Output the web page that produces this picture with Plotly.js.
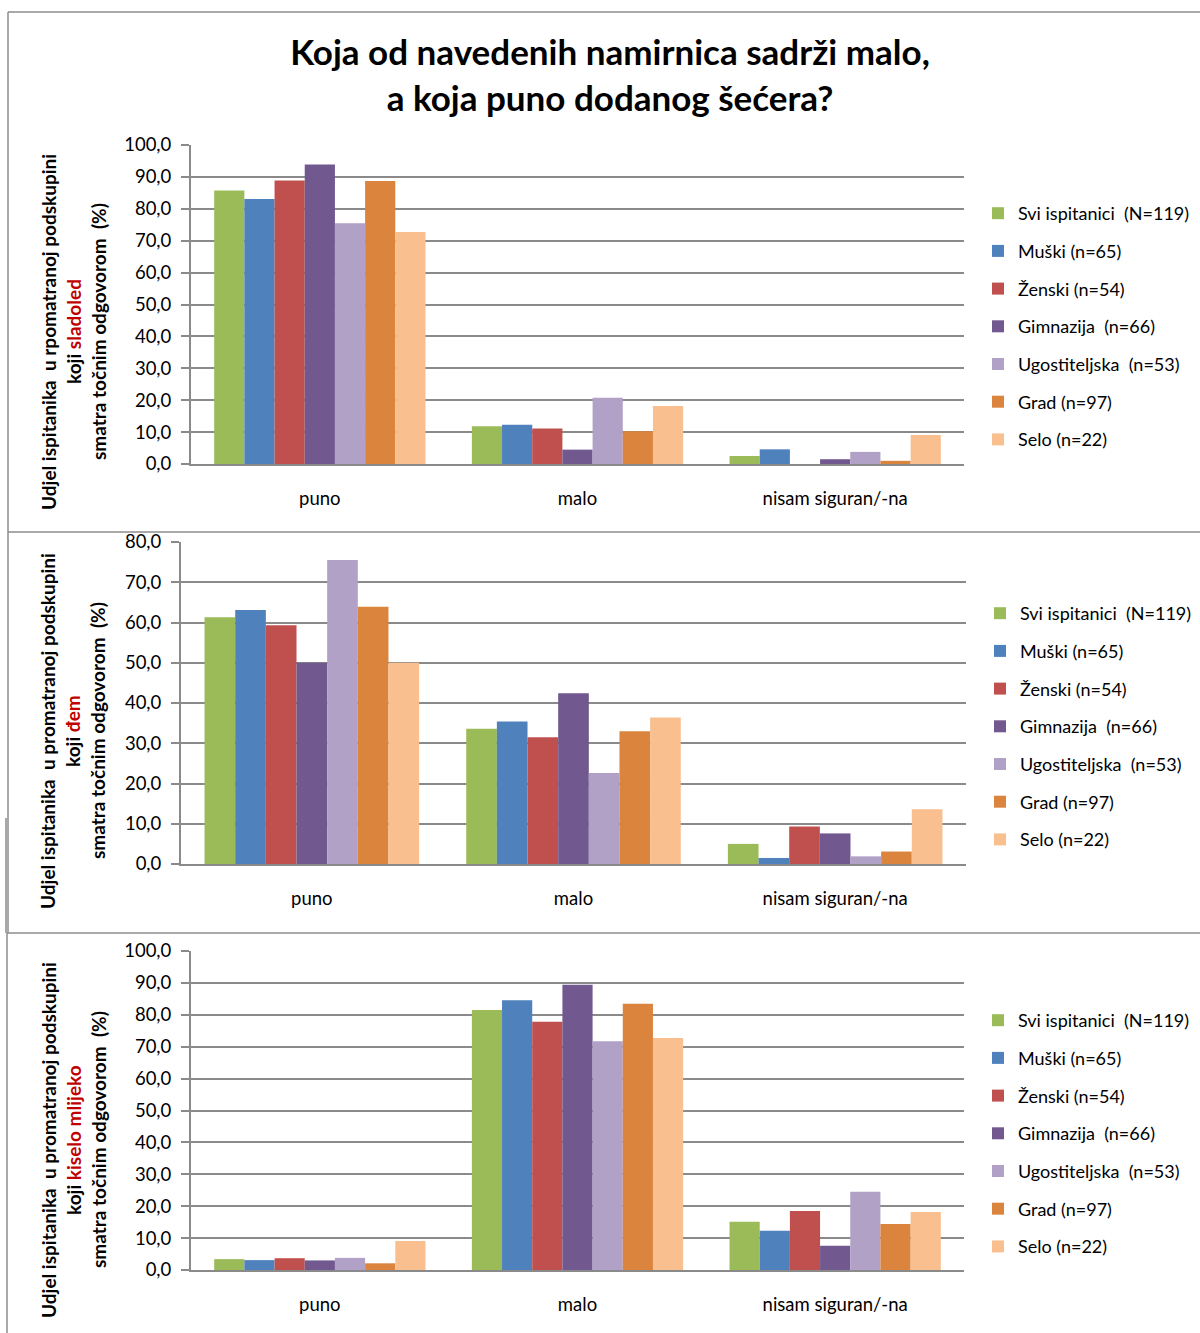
<!DOCTYPE html>
<html>
<head>
<meta charset="utf-8">
<script src="https://cdn.plot.ly/plotly-3.0.1.min.js"></script>
<style>
  html, body { margin: 0; padding: 0; background: #ffffff; }
  #chart { width: 1200px; height: 1333px; }
</style>
</head>
<body>
<div id="chart"></div>
<script>
// Answer categories shown on every x axis
const categories = ['puno', 'malo', 'nisam siguran/-na'];

// Respondent subgroups (legend entries) and their colours
const groups = [
  'Svi ispitanici\u00a0\u00a0(N=119)',
  'Muški (n=65)',
  'Ženski (n=54)',
  'Gimnazija\u00a0\u00a0(n=66)',
  'Ugostiteljska\u00a0\u00a0(n=53)',
  'Grad (n=97)',
  'Selo (n=22)'
];
const groupColors = ['#9BBB59', '#4F81BD', '#C0504D', '#71588F', '#B2A1C7', '#DB843D', '#F9BF8F'];

// Share of respondents (%) per subgroup, one array per food and answer
const sladoledPuno  = [85.7, 83.1, 88.9, 93.9, 75.5, 88.7, 72.7];
const sladoledMalo  = [11.8, 12.3, 11.1,  4.5, 20.8, 10.3, 18.2];
const sladoledNisam = [ 2.5,  4.6,  0.0,  1.5,  3.8,  1.0,  9.1];

const demPuno  = [61.3, 63.1, 59.3, 50.0, 75.5, 63.9, 50.0];
const demMalo  = [33.6, 35.4, 31.5, 42.4, 22.6, 33.0, 36.4];
const demNisam = [ 5.0,  1.5,  9.3,  7.6,  1.9,  3.1, 13.6];

const kiseloPuno  = [ 3.4,  3.1,  3.7,  3.0,  3.8,  2.1,  9.1];
const kiseloMalo  = [81.5, 84.6, 77.8, 89.4, 71.7, 83.5, 72.7];
const kiseloNisam = [15.1, 12.3, 18.5,  7.6, 24.5, 14.4, 18.2];

// Food names highlighted in the y-axis titles
const foods = ['sladoled', 'đem', 'kiselo mlijeko'];
const yTitleFirstLines = [
  'Udjel ispitanika\u00a0\u00a0u rpomatranoj podskupini',
  'Udjel ispitanika\u00a0\u00a0u promatranoj podskupini',
  'Udjel ispitanika\u00a0\u00a0u promatranoj podskupini'
];
const yTitleLastLine = 'smatra točnim odgovorom\u00a0\u00a0(%)';
const yRanges = [100, 80, 100];

const chartTitle = 'Koja od navedenih namirnica sadrži malo,<br>a koja puno dodanog šećera?';

// ---- layout helpers (pixel -> paper coordinates) ----
const W = 1200, H = 1333;
const fx = p => p / W;
const fy = p => 1 - p / H;

const FONT = 'Lato, "Open Sans", sans-serif';
const GRID = '#8a8a8a';

const panelData = [
  [sladoledPuno, sladoledMalo, sladoledNisam],
  [demPuno, demMalo, demNisam],
  [kiseloPuno, kiseloMalo, kiseloNisam]
];

// plot-area rectangles: [left, right, top, bottom] in px
const plotBoxes = [
  [191, 964, 145, 464],
  [181, 966, 542, 864],
  [191, 964, 951, 1270]
];
const legendTops = [195, 595, 1002];
const legendLefts = [978, 980, 978];
const titleTextX = [48, 73, 98];
const titleCenters = [332, 731, 1140];

const traces = [];
panelData.forEach((answers, p) => {
  const suffix = p === 0 ? '' : String(p + 1);
  groups.forEach((name, g) => {
    traces.push({
      type: 'bar',
      name: name,
      x: categories,
      y: answers.map(a => a[g]),
      xaxis: 'x' + suffix,
      yaxis: 'y' + suffix,
      legend: 'legend' + suffix,
      legendgroup: 'p' + p + 'g' + g,
      marker: { color: groupColors[g], line: { width: 0 } },
      hovertemplate: '%{x}: %{y:.1f}<extra>' + name + '</extra>'
    });
  });
});

const layout = {
  width: W,
  height: H,
  margin: { l: 0, r: 0, t: 0, b: 0 },
  paper_bgcolor: '#ffffff',
  plot_bgcolor: '#ffffff',
  separators: ', ',
  barmode: 'group',
  bargap: 0.18,
  bargroupgap: 0,
  font: { family: FONT, size: 18, color: '#000000' },
  title: {
    text: '<b>' + chartTitle + '</b>',
    font: { family: FONT, size: 35, color: '#000000' },
    x: fx(610), xanchor: 'center',
    y: fy(65), yanchor: 'middle',
    xref: 'paper', yref: 'container'
  },
  annotations: [],
  shapes: []
};

plotBoxes.forEach((b, p) => {
  const suffix = p === 0 ? '' : String(p + 1);
  layout['xaxis' + suffix] = {
    domain: [fx(b[0]), fx(b[1])],
    anchor: 'y' + suffix,
    type: 'category',
    showline: true, linecolor: GRID, linewidth: 2,
    showgrid: false, ticks: '',
    ticklabelstandoff: 17,
    tickfont: { family: FONT, size: 18.5, color: '#000000' },
    fixedrange: true
  };
  layout['yaxis' + suffix] = {
    domain: [fy(b[3]), fy(b[2])],
    anchor: 'x' + suffix,
    range: [0, yRanges[p]],
    dtick: 10, tick0: 0,
    tickformat: '.1f',
    showline: true, linecolor: GRID, linewidth: 2,
    showgrid: true, gridcolor: GRID, gridwidth: 1.5,
    zeroline: false,
    ticks: 'outside', ticklen: 8, tickcolor: GRID, tickwidth: 1.5,
    ticklabelstandoff: 6,
    tickfont: { family: FONT, size: 18.5, color: '#000000' },
    fixedrange: true
  };
  layout['legend' + suffix] = {
    x: fx(legendLefts[p]), xanchor: 'left',
    y: fy(legendTops[p]), yanchor: 'top',
    traceorder: 'grouped',
    tracegroupgap: 11.3,
    bgcolor: 'rgba(0,0,0,0)',
    borderwidth: 0,
    font: { family: FONT, size: 18, color: '#000000' }
  };

  // three-line y-axis title, drawn as rotated annotations
  const lines = [
    yTitleFirstLines[p],
    'koji <span style="color:#C00000">' + foods[p] + '</span>',
    yTitleLastLine
  ];
  lines.forEach((t, i) => {
    layout.annotations.push({
      xref: 'paper', yref: 'paper',
      x: fx(titleTextX[i]), y: fy(titleCenters[p]),
      xanchor: 'center', yanchor: 'middle',
      textangle: -90,
      showarrow: false,
      text: '<b>' + t + '</b>',
      font: { family: FONT, size: 19, color: '#000000' }
    });
  });
});

// outer frame lines around the three chart panels
const frame = [
  [8, 12, 1200, 12],
  [8, 12, 8, 532],
  [8, 532, 1200, 532],
  [8, 532, 8, 933],
  [6, 818, 6, 933],
  [7, 933, 1200, 933],
  [7, 933, 7, 1333]
];
frame.forEach(f => {
  layout.shapes.push({
    type: 'line', xref: 'paper', yref: 'paper',
    x0: fx(f[0]), y0: fy(f[1]), x1: fx(f[2]), y1: fy(f[3]),
    line: { color: '#8c8c8c', width: 1.5 }
  });
});

Plotly.newPlot('chart', traces, layout, { displayModeBar: false, responsive: false });
</script>
</body>
</html>
